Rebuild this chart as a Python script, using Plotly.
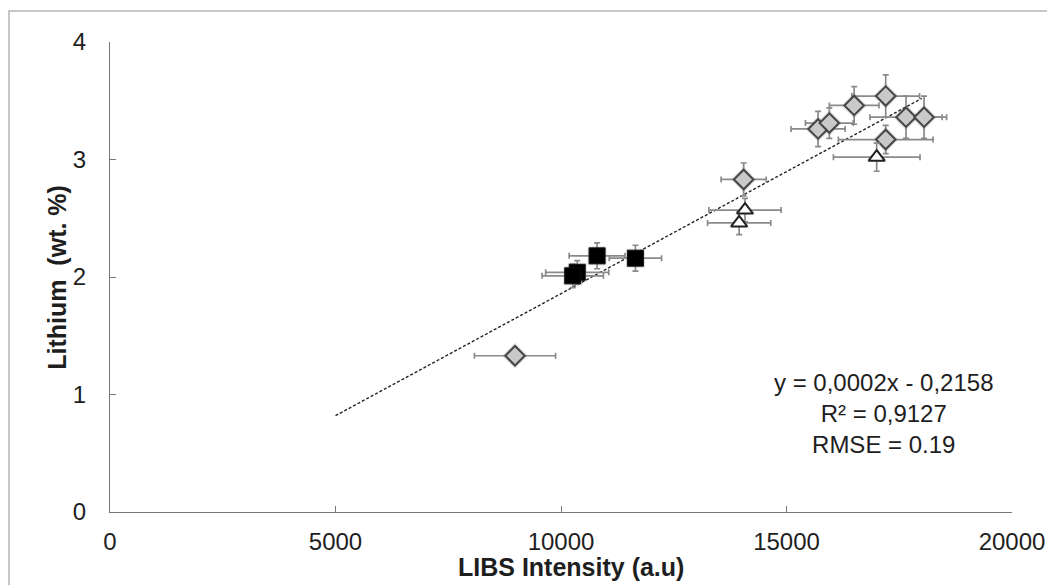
import plotly.graph_objects as go

# ---------------- data ----------------
diamond_x = [8980, 14050, 15700, 15950, 16500, 17200, 17650, 18050, 17200]
diamond_y = [1.33, 2.83, 3.26, 3.31, 3.46, 3.54, 3.36, 3.36, 3.17]
diamond_xerr = [900, 500, 600, 530, 550, 750, 800, 500, 1050]
diamond_yerr = [0.02, 0.14, 0.15, 0.13, 0.16, 0.18, 0.18, 0.18, 0.12]

triangle_x = [17000, 14080, 13950]
triangle_y = [3.02, 2.57, 2.46]
triangle_xerr = [960, 800, 700]
triangle_yerr = [0.12, 0.10, 0.10]

square_x = [10800, 11650, 10360, 10260]
square_y = [2.18, 2.16, 2.04, 2.01]
square_xerr = [620, 580, 700, 680]
square_yerr = [0.11, 0.11, 0.10, 0.10]

trend_x = [5000, 18000]
trend_y = [0.82, 3.52]

x_ticks = [0, 5000, 10000, 15000, 20000]
x_labels = ["0", "5000", "10000", "15000", "20000"]
y_ticks = [0, 1, 2, 3, 4]

fit_text = "y = 0,0002x - 0,2158<br>R² = 0,9127<br>RMSE = 0.19"

FONT = "Liberation Sans, Arial, sans-serif"
ERR = "#8a8a8a"
TXT = "#1e1e1e"

fig = go.Figure()

# ---------------- trend line ----------------
fig.add_trace(go.Scatter(
    x=trend_x, y=trend_y, mode="lines",
    line=dict(color="#222222", width=1.4, dash="3px,2px"),
    hoverinfo="skip",
))


def err(arr):
    return dict(type="data", array=arr, visible=True,
                color=ERR, thickness=1.7, width=3)


# soft halo behind the markers (excel style shadow)
for xs, ys, sym, sz in [(diamond_x, diamond_y, "diamond", 20),
                        (square_x, square_y, "square", 19),
                        (triangle_x, triangle_y, "triangle-up", 18)]:
    fig.add_trace(go.Scatter(
        x=xs, y=ys, mode="markers", hoverinfo="skip",
        marker=dict(symbol=sym, size=sz, color="rgba(0,0,0,0.12)",
                    line=dict(width=0)),
    ))

# ---------------- samples ----------------
fig.add_trace(go.Scatter(
    x=diamond_x, y=diamond_y, mode="markers",
    error_x=err(diamond_xerr), error_y=err(diamond_yerr),
    marker=dict(symbol="diamond", size=15, color="#c9c9c9",
                line=dict(color="#454545", width=2)),
))

fig.add_trace(go.Scatter(
    x=triangle_x, y=triangle_y, mode="markers",
    error_x=err(triangle_xerr), error_y=err(triangle_yerr),
    marker=dict(symbol="triangle-up", size=14, color="white",
                line=dict(color="#222222", width=2)),
))

fig.add_trace(go.Scatter(
    x=square_x, y=square_y, mode="markers",
    error_x=err(square_xerr), error_y=err(square_yerr),
    marker=dict(symbol="square", size=16, color="black",
                line=dict(color="#111111", width=1)),
))

# fit equation box
fig.add_annotation(
    x=17160, y=0.84, xref="x", yref="y",
    text=fit_text, showarrow=False, align="center",
    xanchor="center", yanchor="middle",
    font=dict(family=FONT, size=24, color=TXT),
)

# axis titles
fig.add_annotation(
    x=0.511, y=-0.118, xref="paper", yref="paper",
    text="<b>LIBS Intensity (a.u)</b>", showarrow=False,
    xanchor="center", yanchor="middle",
    font=dict(family=FONT, size=25, color=TXT),
)
fig.add_annotation(
    x=-0.059, y=0.5, xref="paper", yref="paper",
    text="<b>Lithium\u00a0 (wt. %)</b>", showarrow=False, textangle=-90,
    xanchor="center", yanchor="middle",
    font=dict(family=FONT, size=25, color=TXT),
)

# outer frame of the chart area
fig.add_shape(
    type="rect", xref="paper", yref="paper",
    x0=-0.112, x1=1.06, y0=-0.2, y1=1.066,
    line=dict(color="#b5b5b5", width=1.5), layer="below",
)

# page body adds an 8px offset, so the figure is 8px smaller each way
fig.update_layout(
    width=1047, height=577,
    margin=dict(l=102, r=43, t=34, b=73),
    plot_bgcolor="white", paper_bgcolor="white",
    showlegend=False,
    font=dict(family=FONT, color=TXT),
    xaxis=dict(
        range=[0, 20000], tickvals=x_ticks, ticktext=x_labels,
        ticks="inside", ticklen=6, automargin=False,
        tickcolor="#777777", showline=True, linecolor="#777777",
        linewidth=1.3, showgrid=False, zeroline=False,
        tickfont=dict(size=24, family=FONT, color=TXT), ticklabelstandoff=8,
    ),
    yaxis=dict(
        range=[0, 4], tickvals=y_ticks, ticks="inside", ticklen=6,
        automargin=False,
        tickcolor="#777777", showline=True, linecolor="#777777",
        linewidth=1.3, showgrid=False, zeroline=False,
        tickfont=dict(size=24, family=FONT, color=TXT), ticklabelstandoff=18,
    ),
)

fig.write_html("out.html")
